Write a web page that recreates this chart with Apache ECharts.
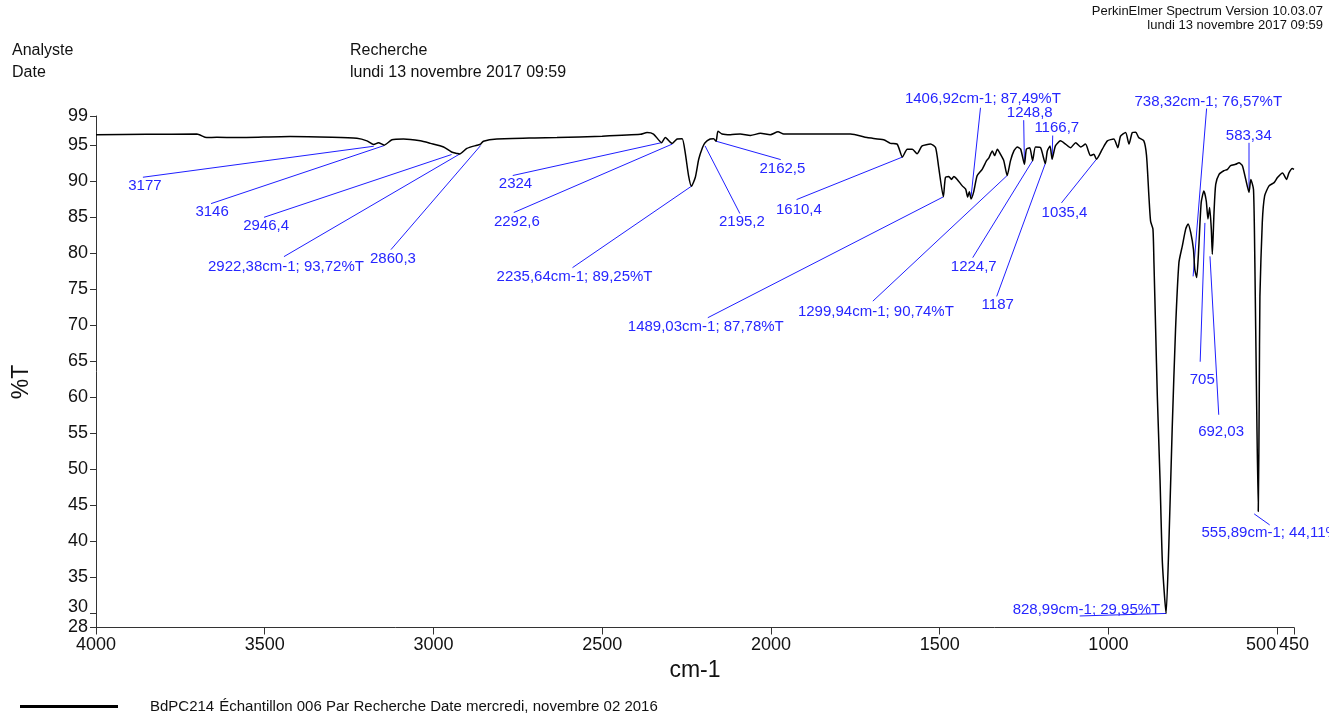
<!DOCTYPE html>
<html>
<head>
<meta charset="utf-8">
<title>BdPC214 - spectre IR</title>
<script src="https://cdn.jsdelivr.net/npm/echarts@6/dist/echarts.min.js"></script>
<style>
  html, body { margin: 0; padding: 0; background: #ffffff; }
  #chart { width: 1329px; height: 713px; }
</style>
</head>
<body>
<div id="chart"></div>
<script>
// Spectrum: wavenumber (cm-1) and transmittance (%T)
const wavenumbers = [
  4000, 3850, 3701, 3672, 3642, 3583, 3425, 3300, 3227, 3197, 3177, 3163, 3146, 3123, 3089, 3039, 3009,
  2970, 2946.4, 2930, 2922.38, 2901, 2871, 2860.3, 2852, 2812, 2700, 2634, 2500, 2387, 2367, 2348,
  2324, 2313, 2292.6, 2278, 2263, 2254, 2244, 2235.64, 2224, 2214, 2203, 2195.2, 2180, 2170, 2162.5,
  2157, 2145, 2120, 2091, 2061, 2031, 2002, 1979, 1962, 1863, 1764, 1715, 1666, 1646, 1626, 1610.4,
  1596, 1581, 1567, 1552, 1527, 1512, 1503, 1489.03, 1483, 1473, 1465, 1458, 1448, 1433, 1423, 1417,
  1412, 1406.92, 1399, 1389, 1374, 1361, 1354, 1344, 1337, 1329, 1320, 1310, 1299.94, 1290, 1280,
  1270, 1260, 1248.8, 1243, 1233, 1224.7, 1216, 1201, 1187, 1181, 1173, 1166.7, 1157, 1142, 1127,
  1112, 1097, 1082, 1068, 1053, 1043, 1035.4, 1018, 1003, 984, 972, 964, 949, 939, 929, 919, 910,
  895, 887, 880, 875, 868, 865, 860, 855, 847, 840, 828.99, 821, 811, 801, 791, 781, 771, 764, 756,
  748, 744, 738.32, 732, 725, 717, 710, 705, 700, 695, 692.03, 687, 682, 672, 658, 647, 638, 623,
  613, 603, 593, 583.34, 578, 570, 566, 561, 555.89, 553, 551, 544, 537, 524, 509, 499, 484, 472,
  465, 455, 450
];
const transmittance = [
  96.4, 96.45, 96.5, 96.0, 96.05, 96.0, 96.15, 96.05, 95.9, 95.55, 95.05, 95.3, 94.95, 95.7, 95.8, 95.55, 95.2,
  94.7, 94.0, 93.8, 93.72, 94.5, 94.95, 95.1, 95.5, 95.8, 95.95, 96.0, 96.2, 96.45, 96.7, 96.5,
  95.3, 96.0, 95.2, 95.8, 95.85, 93.9, 90.7, 89.25, 90.5, 93.0, 94.6, 95.3, 95.8, 95.85, 95.5,
  96.9, 96.5, 96.4, 96.5, 96.3, 96.6, 96.4, 96.8, 96.5, 96.5, 96.5, 96.0, 95.7, 95.2, 95.1, 93.3,
  94.4, 94.4, 93.75, 94.85, 95.1, 94.6, 91.9, 87.78, 90.45, 90.6, 90.2, 90.6, 90.2, 89.3, 88.85, 87.75,
  88.5, 87.49, 88.5, 90.7, 91.6, 92.8, 93.2, 94.15, 93.5, 94.4, 93.7, 92.8, 90.74, 92.8, 94.15,
  94.7, 94.4, 92.3, 94.4, 94.6, 92.8, 94.7, 94.6, 92.4, 94.15, 94.85, 93.0, 94.85, 95.55, 95.1,
  94.6, 95.3, 94.7, 95.1, 93.5, 93.7, 93.0, 94.4, 95.55, 95.8, 94.6, 96.2, 96.7, 95.1, 96.7, 96.75, 96.0,
  95.55, 93.5, 87.9, 84.4, 83.3, 78.65, 69.4, 60.1, 48.55, 37.0, 29.95, 39.3, 55.5, 69.4, 78.65, 80.95, 83.3, 84.0, 82.8,
  80.5, 77.7, 76.57, 80.95, 87.0, 88.6, 87.2, 84.7, 86.3, 83.3, 79.8, 85.6, 89.5, 90.9, 91.4, 91.6, 92.1, 92.3,
  92.5, 92.1, 90.2, 88.4, 90.2, 88.8, 78.65, 60.1, 44.11, 60.1, 74.0, 84.2, 87.9, 89.3, 89.75, 90.45, 91.1, 90.2,
  91.1, 91.7, 91.6
];

// Peak annotations: text, leader start (on the band), leader end, text centre — all in (cm-1, %T)
const peakLabels = [
  '3177', '3146', '2946,4', '2922,38cm-1; 93,72%T', '2860,3', '2324', '2292,6',
  '2235,64cm-1; 89,25%T', '2195,2', '2162,5', '1610,4', '1489,03cm-1; 87,78%T',
  '1299,94cm-1; 90,74%T', '1406,92cm-1; 87,49%T', '1248,8', '1166,7', '1224,7', '1187',
  '1035,4', '738,32cm-1; 76,57%T', '583,34', '705', '692,03', '555,89cm-1; 44,11%T',
  '828,99cm-1; 29,95%T'
];
const leaderFrom = [
  [3177, 94.8], [3146, 94.9], [2946.4, 93.65], [2922.38, 93.72], [2860.3, 94.9], [2324, 95.3], [2292.6, 95.1],
  [2235.64, 89.25], [2195.2, 94.85], [2162.5, 95.5], [1610.4, 93.3], [1489.03, 87.78],
  [1299.94, 90.74], [1406.92, 87.8], [1248.8, 92.3], [1166.7, 93.0], [1224.7, 92.8], [1187, 92.4],
  [1035.4, 93.0], [749, 76.74], [583.34, 88.6], [714, 84.16], [699, 79.52], [568, 43.77],
  [828.99, 29.95]
];
const leaderTo = [
  [3861, 90.5], [3659, 86.84], [3502, 84.94], [3443, 79.48], [3126, 80.45], [2765, 90.74], [2762, 85.6],
  [2588, 77.95], [2092, 85.46], [1971, 92.95], [1924, 87.4], [2187, 71.0],
  [1698, 73.3], [1379, 100.14], [1251, 98.42], [1165, 96.29], [1402, 79.34], [1331, 73.96],
  [1139, 86.94], [709, 100.04], [583.34, 95.28], [728, 64.89], [673, 57.53], [522, 42.24],
  [1085, 29.6]
];
const labelAt = [
  [3855, 89.35], [3656, 85.73], [3496, 83.79], [3437, 78.09], [3120, 79.2], [2757, 89.62], [2753, 84.35],
  [2582, 76.7], [2086, 84.35], [1966, 91.7], [1917, 86.0], [2193, 69.75],
  [1689, 71.8], [1372, 101.39], [1233, 99.45], [1153, 97.31], [1399, 78.09], [1328, 72.81],
  [1130, 85.55], [704, 100.97], [584, 96.2], [722, 62.39], [666, 55.2], [507, 41.17],
  [1065, 30.43]
];

// Axis ticks
const xTicks = [4000, 3500, 3000, 2500, 2000, 1500, 1000, 500, 450];
const yTicks = [28, 30, 35, 40, 45, 50, 55, 60, 65, 70, 75, 80, 85, 90, 95, 99];

const FONT = '"Liberation Sans", Arial, Helvetica, sans-serif';
const BLUE_TEXT = '#2626ff';
const BLUE_LINE = '#1f1fff';

const spectrum = wavenumbers.map((w, i) => [w, transmittance[i]]);
const leaders = leaderFrom.map((f, i) => [f[0], f[1], leaderTo[i][0], leaderTo[i][1]]);

const chart = echarts.init(document.getElementById('chart'), null, { renderer: 'canvas' });

chart.setOption({
  animation: false,
  backgroundColor: '#ffffff',
  textStyle: { fontFamily: FONT },
  grid: { left: 96, right: 35, top: 116, bottom: 85.5, containLabel: false },
  xAxis: {
    type: 'value',
    inverse: true,
    min: 450,
    max: 4000,
    name: 'cm-1',
    nameLocation: 'middle',
    nameGap: 23,
    nameTextStyle: { fontSize: 23, color: '#111', fontFamily: FONT },
    axisLine: { show: true, lineStyle: { color: '#333', width: 1 } },
    axisTick: { show: true, length: 7, inside: false, customValues: xTicks, lineStyle: { color: '#333' } },
    axisLabel: {
      customValues: xTicks,
      margin: 9,
      fontSize: 18,
      color: '#111',
      fontFamily: FONT,
      formatter: v => (v === 500 ? '{l|500}' : String(v)),
      rich: { l: { fontSize: 18, fontFamily: FONT, color: '#111', padding: [0, 32, 0, 0] } }
    },
    splitLine: { show: false }
  },
  yAxis: {
    type: 'value',
    min: 28,
    max: 99,
    axisLine: { show: true, lineStyle: { color: '#333', width: 1 } },
    axisTick: { show: true, length: 6, inside: false, customValues: yTicks, lineStyle: { color: '#333' } },
    axisLabel: {
      customValues: yTicks,
      margin: 8,
      fontSize: 18,
      color: '#111',
      fontFamily: FONT,
      formatter: v => (v === 30 ? '{u|30}' : String(Math.round(v))),
      rich: { u: { fontSize: 18, fontFamily: FONT, color: '#111', padding: [0, 0, 13, 0] } }
    },
    splitLine: { show: false }
  },
  legend: {
    show: true,
    left: 20,
    top: 699,
    padding: 0,
    icon: 'rect',
    itemWidth: 98,
    itemHeight: 3,
    data: ['BdPC214'],
    formatter: () => '{a|BdPC214}{b|Échantillon 006 Par Recherche Date mercredi, novembre 02 2016}',
    textStyle: {
      fontSize: 15,
      color: '#111',
      fontFamily: FONT,
      rich: {
        a: { fontSize: 15, fontFamily: FONT, color: '#111', padding: [0, 5, 0, 27] },
        b: { fontSize: 15, fontFamily: FONT, color: '#111' }
      }
    }
  },
  graphic: [
    { type: 'text', right: 6, top: 5, style: { text: 'PerkinElmer Spectrum Version 10.03.07', font: '13px ' + FONT, fill: '#111' } },
    { type: 'text', right: 6, top: 19, style: { text: 'lundi 13 novembre 2017 09:59', font: '13px ' + FONT, fill: '#111' } },
    { type: 'text', left: 12, top: 43, style: { text: 'Analyste', font: '16px ' + FONT, fill: '#111' } },
    { type: 'text', left: 12, top: 65, style: { text: 'Date', font: '16px ' + FONT, fill: '#111' } },
    { type: 'text', left: 350, top: 43, style: { text: 'Recherche', font: '16px ' + FONT, fill: '#111' } },
    { type: 'text', left: 350, top: 65, style: { text: 'lundi 13 novembre 2017 09:59', font: '16px ' + FONT, fill: '#111' } },
    {
      type: 'text', x: 22, y: 382, rotation: Math.PI / 2,
      style: { text: '%T', font: '23px ' + FONT, fill: '#111', align: 'center', verticalAlign: 'middle' }
    }
  ],
  series: [
    {
      name: 'BdPC214',
      type: 'line',
      data: spectrum,
      showSymbol: false,
      symbol: 'none',
      smooth: 0.2,
      lineStyle: { color: '#000', width: 1.5 },
      itemStyle: { color: '#000' },
      clip: false,
      z: 3
    },
    {
      name: 'leaders',
      type: 'custom',
      data: leaders,
      clip: false,
      silent: true,
      encode: { x: [0, 2], y: [1, 3] },
      renderItem: (params, api) => {
        const p1 = api.coord([api.value(0), api.value(1)]);
        const p2 = api.coord([api.value(2), api.value(3)]);
        return {
          type: 'line',
          shape: { x1: p1[0], y1: p1[1], x2: p2[0], y2: p2[1] },
          style: { stroke: BLUE_LINE, lineWidth: 1 }
        };
      },
      z: 2
    },
    {
      name: 'peak labels',
      type: 'custom',
      data: labelAt,
      clip: false,
      silent: true,
      encode: { x: 0, y: 1 },
      renderItem: (params, api) => {
        const p = api.coord([api.value(0), api.value(1)]);
        return {
          type: 'text',
          x: p[0],
          y: p[1],
          style: {
            text: peakLabels[params.dataIndex],
            fill: BLUE_TEXT,
            font: '15px ' + FONT,
            align: 'center',
            verticalAlign: 'middle'
          }
        };
      },
      z: 4
    }
  ]
});
</script>
</body>
</html>
